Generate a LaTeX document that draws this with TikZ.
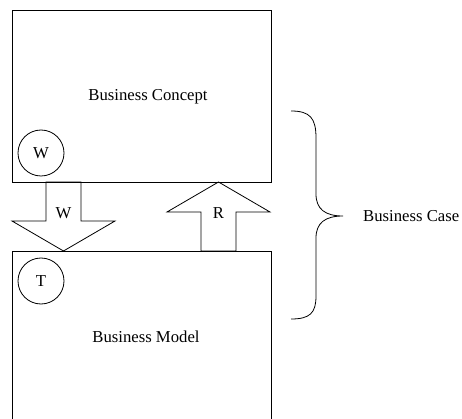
\documentclass[tikz,border=0pt]{standalone}
\usepackage{fontspec}
\setmainfont{Liberation Serif}
\def\warrowshape{(46,182) -- (81,182) -- (81,221) -- (115,221) -- (63.5,251) -- (12,221) -- (46,221) -- cycle}
\def\rarrowshape{(218.5,182) -- (270,212) -- (236,212) -- (236,251) -- (201,251) -- (201,212) -- (167,212) -- cycle}
\colorlet{box edge}{black}
\tikzset{block/.style={draw=box edge, line width=0.8pt, fill=white},
      outline/.style={draw=box edge, line width=0.8pt},
      badge/.style={circle, draw=box edge, line width=0.8pt, minimum size=46pt, inner sep=0pt},
      lbl/.style={font=\fontsize{16.7}{20}\selectfont, inner sep=0pt}}
\begin{document}
\begin{tikzpicture}[x=1pt, y=-1pt, every node/.style={lbl}
]
\useasboundingbox (0,0) rectangle (462,419);
\clip (0,0) rectangle (462,419);
    \draw[block] (12,10) rectangle (271,182);
    \draw[block] (12,251) rectangle (271,430);
    \node (concept) at (148,97) {Business Concept};
    \node (model) at (146,337) {Business Model};
    \node[badge] (wcirc) at (41,153) {W};
    \node[badge] (tcirc) at (41,281) {T};
    \draw[outline] \warrowshape;
    \draw[outline] \rarrowshape;
    \node (wlabel) at (63.5,213) {W};
    \node (rlabel) at (218.5,213) {R};
    \coordinate (bracetop) at (291,111);
    \coordinate (bracetip) at (343,216);
    \coordinate (bracebot) at (291,319);
    \draw[outline] (bracetop) .. controls (310,111) and (316,118) .. (316,138)
      -- (316,194) .. controls (316,209) and (325,216) .. (bracetip)
      .. controls (325,216) and (316,223) .. (316,238)
      -- (316,296) .. controls (316,313) and (310,319) .. (bracebot);
    \node[anchor=west] (case) at (363,216) {Business Case};
\end{tikzpicture}
\end{document}
